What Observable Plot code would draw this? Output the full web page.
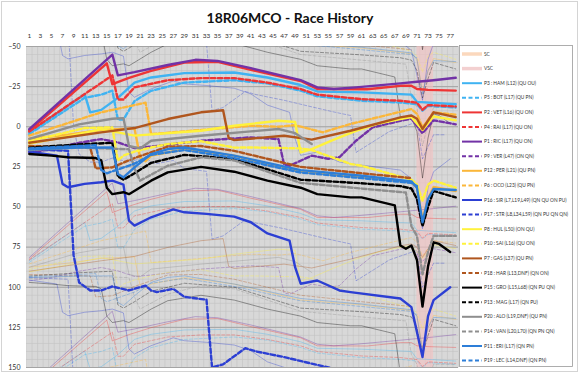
<!DOCTYPE html>
<html>
<head>
<meta charset="utf-8">
<script src="https://cdn.jsdelivr.net/npm/d3@7"></script>
<script src="https://cdn.jsdelivr.net/npm/@observablehq/plot@0.6"></script>
<style>
  html,body{margin:0;padding:0;background:#fff;}
  #chart svg{display:block;}
</style>
</head>
<body>
<div id="chart"></div>
<script>
// ---------------- data ----------------
const chartTitle = "18R06MCO - Race History";
const xTickLaps = [1,3,5,7,9,11,13,15,17,19,21,23,25,27,29,31,33,35,37,39,41,43,45,47,49,51,53,55,57,59,61,63,65,67,69,71,73,75,77];
const yTickValues = [-50,-25,0,25,50,75,100,125,150];
const lapGhostOffsets = [-160,-80,80,160];
const vscLaps = [71,74];

const HAM = [[1,3.5],[11,-20.3],[12,-9],[14,-10.5],[17,-18],[20,-27.5],[23,-30.7],[29,-33.4],[38,-33.8],[44,-30.7],[50,-26],[53,-22],[61,-21.4],[68,-20.3],[70,-20],[71,-15.5],[78,-14]];
const BOT = [[1,4.5],[11,-18],[14,-20],[16,-22.5],[17,-4.5],[18,-4.5],[20,-16],[23,-22.4],[29,-27.5],[38,-29],[44,-27],[50,-22.5],[53,-19],[61,-16.2],[68,-15.1],[71,-14],[72,-10],[73,-13],[78,-12]];
const VET = [[1,2.5],[15,-39.5],[16,-26.5],[19,-30.5],[23,-34.8],[29,-40],[35,-40.5],[41,-35.5],[50,-28.5],[53,-23.5],[62,-23.4],[68,-25.5],[70,-25.5],[71,-23.5],[73,-23],[78,-22.5]];
const RAI = [[1,3],[16,-32],[17,-17],[18,-17],[20,-24.5],[26,-29],[32,-30.3],[38,-30.3],[44,-27.5],[50,-23.5],[53,-20],[61,-17.2],[68,-16.2],[71,-15],[72,-10.6],[73,-13.5],[78,-12.6]];
const RIC = [[1,1.5],[16,-45],[17,-32],[20,-34],[26,-38.5],[31,-41.7],[35,-41],[41,-36.5],[50,-29],[53,-24.5],[56,-23.5],[60,-24.5],[68,-27],[71,-28],[74,-29],[78,-30.5]];
const VER = [[1,16],[5,14],[10,10],[14,7.7],[17,9.8],[20,13.3],[23,12.4],[32,8.7],[41,6.6],[46,7.7],[47,23.5],[48,24.3],[52,18],[55,20],[57,19],[60,8.7],[63,0.4],[68,-3.7],[70,-5],[72,4],[74,-4],[78,-1.5]];
const PER = [[1,7.5],[8,5],[14,2],[20,1],[21,19],[22,21.5],[23,18],[29,14],[38,18],[50,28],[61,31],[70,34.5],[71,38],[72,58],[73,45],[74,37.5],[78,40]];
const OCO = [[1,5.5],[14,-9],[22,-15],[23,4.6],[32,2],[41,-0.6],[46,0],[49,-1],[54,3.5],[59,-1.7],[65,-6.8],[70,-11],[71,-8],[72,0.5],[74,-9],[78,-7.5]];
const SIR = [[1,15.5],[6,18],[7,35.6],[8,37.7],[11,35.6],[14,34.6],[16,33.6],[18,36],[19,58.5],[20,61.6],[23,56.4],[27,51.5],[29,53.3],[33,54.3],[38,56],[41,59.5],[44,66.5],[48,71],[49,87.5],[50,97.8],[53,95.8],[57,102],[59,103],[68,107],[70,112.4],[72,143.5],[73,118],[74,108],[77,100]];
const STR = [[1,14],[8,15],[9,80],[10,97],[12,102],[14,102],[16,99.5],[19,102],[22,99],[23,102],[24,103],[27,101],[29,106],[33,107.8],[34,150],[36,148],[40,138],[42,140],[47,143.5],[52,147.6],[56,150.8],[59,153],[60,176],[66,163],[71,157],[72,180],[74,165],[76,165]];
const HUL = [[1,10.5],[8,6],[14,1.5],[20,5.5],[32,2.5],[38,-0.6],[46,-3.7],[49,-3],[50,16],[52,14],[56,8],[60,2.5],[64,-2],[68,-4.8],[70,-6],[72,2],[74,-6.5],[78,-4]];
const SAI = [[1,9],[11,0.8],[16,0.4],[17,21],[18,18],[20,15.5],[23,12.9],[26,10.8],[32,9],[38,13],[41,12.9],[50,13.5],[52,14.5],[59,23.2],[61,24.3],[70,33],[71,36],[72,46],[73,36],[74,33.6],[78,38]];
const GAS = [[1,10],[14,3.5],[20,0.8],[26,-4.8],[32,-9],[36,-10.3],[37,7],[38,8.3],[47,5.6],[52,8],[59,2.5],[68,-5.8],[70,-7],[71,-5],[72,1.4],[74,-9],[78,-6]];
const HAR = [[1,12],[12,12.9],[13,26],[16,25.3],[20,19.5],[26,12.4],[32,12],[38,15],[50,25],[61,29],[70,32]];
const GRO = [[1,17],[5,18],[8,19],[13,19.5],[14,21],[15,38],[16,42],[18,40.8],[19,42],[23,33.6],[26,28.4],[32,25],[38,28],[44,33.6],[50,38],[53,42],[59,44],[61,44],[67,49],[68,74],[69,76],[70,74],[71,83],[72,112],[73,87],[74,72],[75,73],[77,78]];
const MAG = [[1,13],[10,11],[16,10],[17,31],[18,33],[20,29],[23,22.5],[29,17.5],[38,20],[50,33],[60,35],[68,37],[70,38.5],[71,45],[72,62],[73,50],[74,40],[78,44]];
const ALO = [[1,7.5],[10,-1.5],[16,-5],[18,-5.4],[19,12],[21,13.5],[23,8.7],[32,5.6],[41,2.9],[46,1.4],[49,4],[52,10.8]];
const VAN = [[1,14.5],[10,13],[19,14],[20,26],[21,33.6],[26,24.3],[32,19],[38,21],[50,35],[61,38.5],[69,41],[70,62],[71,68],[72,92],[73,78],[74,68],[78,68]];
const ERI = [[1,14],[10,13],[16,12.9],[17,29.4],[18,31.5],[20,25.3],[23,17],[26,13.9],[29,12.9],[38,18],[50,27],[61,30.5],[70,34],[71,38],[72,59.5],[73,45],[74,38.8],[78,39.4]];
const LEC = [[1,13.5],[13,11.5],[14,27],[15,29],[20,23],[23,17.5],[29,14.5],[38,19.5],[50,28.5],[61,32],[70,35],[71,37]];

const seriesCodes = ["HAM","BOT","VET","RAI","RIC","VER","PER","OCO","SIR","STR","HUL","SAI","GAS","HAR","GRO","MAG","ALO","VAN","ERI","LEC"];
const seriesLabels = [
  "P3 : HAM (L12) (QU OU)","P5 : BOT (L17) (QU PN)","P2 : VET (L16) (QU ON)","P4 : RAI (L17) (QU ON)",
  "P1 : RIC (L17) (QU ON)","P9 : VER (L47) (ON QN)","P12 : PER (L21) (QU PN)","P6 : OCO (L23) (QU PN)",
  "P16 : SIR (L7,L19,L49) (QN QU ON PU)","P17 : STR (L8,L34,L59) (QN PU QN QN)","P8 : HUL (L50) (ON QU)","P10 : SAI (L16) (QU ON)",
  "P7 : GAS (L37) (QU PN)","P18 : HAR (L13,DNF) (QN ON)","P15 : GRO (L15,L68) (QN PU QN)","P13 : MAG (L17) (QN PU)",
  "P20 : ALO (L19,DNF) (QU PN)","P14 : VAN (L20,L70) (QN PN QN)","P11 : ERI (L17) (QN PN)","P19 : LEC (L14,DNF) (QN PN)"
];
const seriesValues = {HAM,BOT,VET,RAI,RIC,VER,PER,OCO,SIR,STR,HUL,SAI,GAS,HAR,GRO,MAG,ALO,VAN,ERI,LEC};

// ---------------- styles ----------------
const teamColor = {
  HAM:"#3fb3f2",BOT:"#3fb3f2",VET:"#ee3535",RAI:"#ee3535",RIC:"#7232a6",VER:"#7232a6",
  PER:"#fbb73a",OCO:"#fbb73a",SIR:"#2c3fd3",STR:"#2c3fd3",HUL:"#fff23c",SAI:"#fff23c",
  GAS:"#b0561e",HAR:"#b0561e",GRO:"#000000",MAG:"#000000",ALO:"#8e8e8e",VAN:"#8e8e8e",
  ERI:"#2d7ed8",LEC:"#2d7ed8"
};
const dashed = new Set(["BOT","RAI","VER","OCO","STR","SAI","HAR","MAG","VAN","LEC"]);

const drivers = seriesCodes.map((c,i)=>({code:c,label:seriesLabels[i],pts:seriesValues[c],color:teamColor[c],dash:dashed.has(c)}));

const W = 580, H = 378;
const minorY = d3.range(-50,151,5);
const lapBounds = d3.range(0.5,79,1);

const ghostMarks = drivers.flatMap(d => lapGhostOffsets.map(off =>
  Plot.line(d.pts, {x: p=>p[0], y: p=>p[1]+off, stroke: d.color, strokeWidth: 1, strokeOpacity: 0.36,
    strokeDasharray: d.dash ? "3,2" : null, clip: true})));
const mainMarks = drivers.map(d =>
  Plot.line(d.pts, {x: p=>p[0], y: p=>p[1], stroke: d.color, strokeWidth: 2.4,
    strokeDasharray: d.dash ? "4.5,2.5" : null, clip: true}));

const plot = Plot.plot({
  width: W, height: H,
  marginLeft: 26, marginRight: 122, marginTop: 46, marginBottom: 11,
  x: {domain: [0.5, 78.5]},
  y: {domain: [-50, 150], reverse: true},
  style: {background: "#fff", fontFamily: "Lato, 'Open Sans', sans-serif", color: "#333"},
  marks: [
    Plot.frame({fill: "#d8d8d8", stroke: null}),
    Plot.gridX(lapBounds, {stroke: "#c2c2c2", strokeOpacity: 1, strokeWidth: 0.6}),
    Plot.gridY(minorY, {stroke: "#c2c2c2", strokeOpacity: 1, strokeWidth: 0.6}),
    Plot.gridY(yTickValues, {stroke: "#a4a4a4", strokeOpacity: 1, strokeWidth: 1}),
    Plot.rect([vscLaps], {x1: d=>d[0], x2: d=>d[1], fill: "#f2c3c3", fillOpacity: 0.65}),
    ...ghostMarks,
    ...mainMarks,
    Plot.axisX(xTickLaps, {anchor: "top", tickSize: 0, tickPadding: 9, fontSize: 6.5, fill: "#333"}),
    Plot.axisY(yTickValues, {anchor: "left", tickSize: 0, tickPadding: 6, fontSize: 7, fill: "#333"})
  ]
});
document.getElementById("chart").appendChild(plot);

// ---------------- title, frame & legend ----------------
const svg = d3.select(plot);
svg.insert("rect", ":first-child").attr("x",1.5).attr("y",1.5).attr("width",576).attr("height",370)
  .attr("fill","#fff").attr("stroke","#d4d4d4");
svg.append("text").attr("x",290).attr("y",23).attr("text-anchor","middle")
  .attr("font-family","Lato, sans-serif").attr("font-weight","bold").attr("font-size",14).attr("fill","#111")
  .text(chartTitle);

const lg = svg.append("g").attr("text-anchor","start");
lg.append("rect").attr("x",459.5).attr("y",45.5).attr("width",113).attr("height",321)
  .attr("fill","#fff").attr("stroke","#9a9a9a").attr("stroke-width",0.8);
const legendItems = [
  {label:"SC", color:"#fbd8bd", width:3.5, dash:null},
  {label:"VSC", color:"#f3d0d0", width:3.5, dash:null},
  ...drivers.map(d=>({label:d.label,color:d.color,width:2,dash:d.dash?"4,2.5":null}))
];
legendItems.forEach((it,i)=>{
  const y = 54 + i*14.6;
  lg.append("line").attr("x1",462).attr("x2",482).attr("y1",y).attr("y2",y)
    .attr("stroke",it.color).attr("stroke-width",it.width).attr("stroke-dasharray",it.dash);
  lg.append("text").attr("x",484).attr("y",y).attr("dy","0.35em").attr("text-anchor","start")
    .attr("font-family","Lato, sans-serif").attr("font-size",4.8).attr("fill","#333").text(it.label);
});
</script>
</body>
</html>
